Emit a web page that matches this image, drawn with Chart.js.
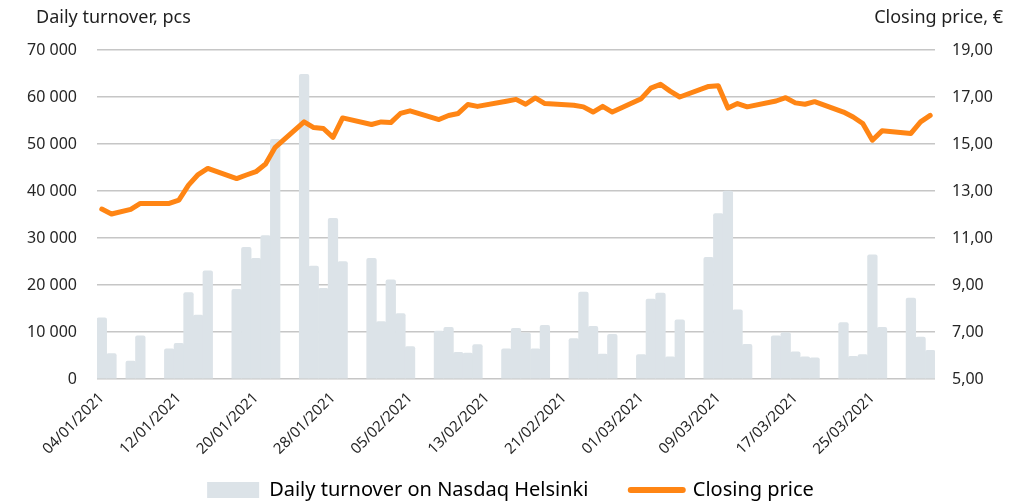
<!DOCTYPE html>
<html>
<head>
<meta charset="utf-8">
<script src="https://cdn.jsdelivr.net/npm/chart.js@4.4.1/dist/chart.umd.min.js"></script>
<style>
  html, body { margin: 0; padding: 0; background: #fff; }
  #wrap { position: relative; width: 1013px; height: 504px; }
  .axis-title { position: absolute; top: 4px; font: 18px "Noto Sans", sans-serif; color: #1f1f1f; }
</style>
</head>
<body>
<div id="wrap">
  <canvas id="chart" width="1013" height="504"></canvas>
  <div class="axis-title" style="left:36px">Daily turnover, pcs</div>
  <div class="axis-title" style="right:10px">Closing price, €</div>
</div>
<script>
// one category per calendar day, 04/01/2021 - 31/03/2021
const dates = [];
for (let d = new Date(Date.UTC(2021, 0, 4)); d <= new Date(Date.UTC(2021, 2, 31)); d.setUTCDate(d.getUTCDate() + 1)) {
  const dd = String(d.getUTCDate()).padStart(2, "0");
  const mm = String(d.getUTCMonth() + 1).padStart(2, "0");
  dates.push(`${dd}/${mm}/${d.getUTCFullYear()}`);
}

// null = weekend / market closed
const turnover = [
  13000, 5400, null, 3800, 9200, null, null,
  6400, 7600, 18400, 13600, 23000, null, null,
  19100, 28000, 25700, 30500, 51000, null, null,
  64800, 24000, 19300, 34200, 25000, null, null,
  25700, 12200, 21100, 13900, 6900, null, null,
  10200, 11000, 5700, 5500, 7300, null, null,
  6400, 10800, 9800, 6400, 11400, null, null,
  8600, 18500, 11200, 5300, 9500, null, null,
  5200, 17000, 18300, 4700, 12600, null, null,
  25900, 35200, 40000, 14700, 7400, null, null,
  9200, 9900, 5800, 4700, 4500, null, null,
  12000, 4800, 5200, 26400, 11000, null, null,
  17200, 8900, 6100,
];

const closingPrice = [
  12.23, 12.02, null, 12.22, 12.47, null, null,
  12.47, 12.61, 13.25, 13.70, 13.96, null, null,
  13.53, 13.68, 13.82, 14.15, 14.86, null, null,
  15.94, 15.70, 15.66, 15.28, 16.11, null, null,
  15.83, 15.94, 15.91, 16.30, 16.41, null, null,
  16.04, 16.21, 16.30, 16.68, 16.60, null, null,
  16.82, 16.90, 16.69, 16.96, 16.72, null, null,
  16.65, 16.58, 16.36, 16.60, 16.36, null, null,
  16.93, 17.38, 17.54, 17.25, 17.00, null, null,
  17.45, 17.48, 16.53, 16.72, 16.58, null, null,
  16.83, 16.97, 16.75, 16.69, 16.80, null, null,
  16.36, 16.15, 15.87, 15.16, 15.56, null, null,
  15.45, 15.94, 16.22,
];

const barColor = "#dce3e8";
const lineColor = "#ff8514";
const textColor = "#262626";
const fontFamily = "'Noto Sans', sans-serif";

const fmtThousands = (v) => String(v).replace(/\B(?=(\d{3})+(?!\d))/g, " ");

const chart = new Chart(document.getElementById("chart"), {
  data: {
    labels: dates,
    datasets: [
      {
        type: "line",
        label: "Closing price",
        data: closingPrice,
        yAxisID: "y1",
        borderColor: lineColor,
        backgroundColor: lineColor,
        borderWidth: 5,
        borderJoinStyle: "round",
        borderCapStyle: "round",
        pointRadius: 0,
        tension: 0,
        spanGaps: true,
        order: 0,
      },
      {
        type: "bar",
        label: "Daily turnover on Nasdaq Helsinki",
        data: turnover,
        yAxisID: "y",
        backgroundColor: barColor,
        borderRadius: 2,
        borderSkipped: "bottom",
        categoryPercentage: 1,
        barPercentage: 1,
        order: 1,
      },
    ],
  },
  options: {
    responsive: false,
    animation: false,
    devicePixelRatio: 1,
    layout: { padding: { top: 50, left: 8, right: 0, bottom: -6 } },
    plugins: {
      tooltip: { enabled: false },
      legend: {
        position: "bottom",
        labels: {
          usePointStyle: true,
          pointStyleWidth: 52,
          boxHeight: 16,
          padding: 6,
          color: textColor,
          font: { family: fontFamily, size: 20 },
          generateLabels: (ch) => [
            {
              // trailing spaces widen the gap between the two entries
              text: "Daily turnover on Nasdaq Helsinki" + "\u00a0".repeat(7),
              fillStyle: barColor,
              strokeStyle: barColor,
              lineWidth: 0,
              pointStyle: "rect",
              datasetIndex: 1,
            },
            {
              text: "Closing price",
              fillStyle: lineColor,
              strokeStyle: lineColor,
              lineWidth: 6,
              lineCap: "round",
              pointStyle: "line",
              datasetIndex: 0,
            },
          ],
        },
      },
    },
    scales: {
      x: {
        offset: true,
        grid: { display: false },
        border: { display: false },
        ticks: {
          autoSkip: false,
          minRotation: 45,
          maxRotation: 45,
          padding: 2,
          color: textColor,
          font: { family: fontFamily, size: 15 },
          callback: (value, index) => (index % 8 === 0 ? dates[index] : ""),
        },
        afterFit: (scale) => { scale.height = 95; },
      },
      y: {
        position: "left",
        min: 0,
        max: 70000,
        border: { display: false },
        grid: { color: "#c6c6c6", lineWidth: 1.5, drawTicks: false },
        ticks: {
          stepSize: 10000,
          padding: 20,
          color: textColor,
          font: { family: fontFamily, size: 16 },
          callback: (v) => fmtThousands(v),
        },
        afterFit: (scale) => { scale.width = 89; },
      },
      y1: {
        position: "right",
        min: 5,
        max: 19,
        border: { display: false },
        grid: { display: false, drawTicks: false },
        ticks: {
          stepSize: 2,
          padding: 17,
          color: textColor,
          font: { family: fontFamily, size: 16 },
          callback: (v) => v.toFixed(2).replace(".", ","),
        },
        afterFit: (scale) => { scale.width = 78; },
      },
    },
  },
});
</script>
</body>
</html>
